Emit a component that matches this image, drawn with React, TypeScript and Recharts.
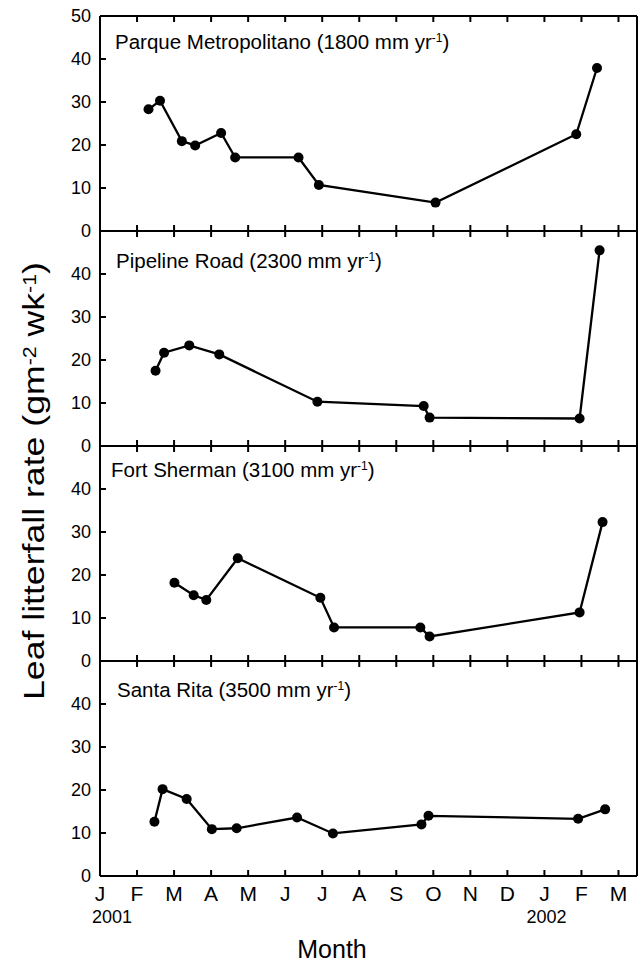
import React from 'react';
import { LineChart, Line, XAxis, YAxis } from 'recharts';

// month index: 0 = Jan 2001 ... 14 = Mar 2002
const MONTH_TICKS = [0, 1, 2, 3, 4, 5, 6, 7, 8, 9, 10, 11, 12, 13, 14];
const MONTH_LABELS = ['J', 'F', 'M', 'A', 'M', 'J', 'J', 'A', 'S', 'O', 'N', 'D', 'J', 'F', 'M'];
const YEAR_LABELS: Record<number, string> = { 0: '2001', 12: '2002' };
const RATE_TICKS = [0, 10, 20, 30, 40, 50];

const parqueMonth = [1.31, 1.62, 2.21, 2.57, 3.27, 3.65, 5.36, 5.91, 9.06, 12.86, 13.42];
const parqueRate = [28.3, 30.3, 20.9, 19.9, 22.8, 17.1, 17.1, 10.7, 6.6, 22.5, 37.9];

const pipelineMonth = [1.5, 1.73, 2.41, 3.22, 5.87, 8.74, 8.9, 12.95, 13.49];
const pipelineRate = [17.5, 21.7, 23.4, 21.3, 10.3, 9.3, 6.6, 6.4, 45.5];

const shermanMonth = [2.01, 2.53, 2.87, 3.72, 5.95, 6.32, 8.65, 8.9, 12.95, 13.57];
const shermanRate = [18.2, 15.3, 14.2, 23.9, 14.7, 7.8, 7.8, 5.7, 11.3, 32.3];

const ritaMonth = [1.47, 1.69, 2.34, 3.02, 3.69, 5.32, 6.29, 8.68, 8.87, 12.91, 13.64];
const ritaRate = [12.6, 20.2, 17.9, 10.9, 11.1, 13.6, 9.9, 12.0, 14.0, 13.3, 15.5];

const SITES = ['Parque Metropolitano', 'Pipeline Road', 'Fort Sherman', 'Santa Rita'];
const RAINFALL = [1800, 2300, 3100, 3500];

const FONT = '"Liberation Sans", Arial, Helvetica, sans-serif';
const PANEL_TOPS = [16, 231, 446, 661];
const PANEL_H = 215;
const AXIS_PAD = 10;
const TITLE_POS = [
  { x: 115, y: 49 },
  { x: 116, y: 268 },
  { x: 111, y: 477 },
  { x: 117, y: 697 },
];

const toRows = (m: number[], v: number[]) => m.map((x, i) => ({ month: x, rate: v[i] }));
const PANELS = [
  toRows(parqueMonth, parqueRate),
  toRows(pipelineMonth, pipelineRate),
  toRows(shermanMonth, shermanRate),
  toRows(ritaMonth, ritaRate),
];

const black = { stroke: '#000', strokeWidth: 2 };

function LeftLabel(props: any) {
  const { x, y, payload, showTop } = props;
  const v = payload.value;
  if (v === 50 && !showTop) return <g />;
  return (
    <text x={x - 9} y={y} dy="0.36em" textAnchor="end" fontSize={18} fontFamily={FONT} fill="#000">
      {v}
    </text>
  );
}

function MonthLabel(props: any) {
  const { x, y, payload, show } = props;
  if (!show) return <g />;
  const v = payload.value;
  const year = YEAR_LABELS[v];
  return (
    <g>
      <text x={x} y={y + 25} textAnchor="middle" fontSize={21} fontFamily={FONT} fill="#000">
        {MONTH_LABELS[v]}
      </text>
      {year && (
        <text x={x + (v === 0 ? 12 : 2)} y={y + 47} textAnchor="middle" fontSize={18} fontFamily={FONT} fill="#000">
          {year}
        </text>
      )}
    </g>
  );
}

const Empty = () => <g />;

function Panel({ index }: { index: number }) {
  const last = index === PANELS.length - 1;
  const extra = last ? 60 : 0;
  return (
    <div style={{ position: 'absolute', left: 0, top: PANEL_TOPS[index] - AXIS_PAD }}>
      <LineChart
        width={642}
        height={AXIS_PAD + PANEL_H + AXIS_PAD + extra}
        data={PANELS[index]}
        margin={{ top: 0, right: 0, bottom: extra, left: 40 }}
      >
        <XAxis
          xAxisId="b"
          dataKey="month"
          type="number"
          domain={[0, 14.5]}
          ticks={MONTH_TICKS}
          interval={0}
          height={AXIS_PAD}
          tickSize={-6}
          tickMargin={6}
          tickLine={black}
          axisLine={black}
          tick={<MonthLabel show={last} />}
          allowDataOverflow
        />
        <XAxis
          xAxisId="t"
          orientation="top"
          dataKey="month"
          type="number"
          domain={[0, 14.5]}
          ticks={MONTH_TICKS}
          interval={0}
          height={AXIS_PAD}
          tickSize={-6}
          tickMargin={6}
          tickLine={black}
          axisLine={black}
          tick={<Empty />}
          allowDataOverflow
        />
        <YAxis
          yAxisId="l"
          type="number"
          domain={[0, 50]}
          ticks={RATE_TICKS}
          interval={0}
          width={60}
          tickSize={-6}
          tickMargin={6}
          tickLine={black}
          axisLine={black}
          tick={<LeftLabel showTop={index === 0} />}
        />
        <YAxis
          yAxisId="r"
          orientation="right"
          type="number"
          domain={[0, 50]}
          ticks={RATE_TICKS}
          interval={0}
          width={5}
          tickSize={-6}
          tickMargin={6}
          tickLine={black}
          axisLine={black}
          tick={<Empty />}
        />
        <Line
          xAxisId="b"
          yAxisId="l"
          type="linear"
          dataKey="rate"
          stroke="#000"
          strokeWidth={2.3}
          dot={{ r: 5, fill: '#000', stroke: '#000', strokeWidth: 0 }}
          isAnimationActive={false}
        />
      </LineChart>
    </div>
  );
}

export default function App() {
  return (
    <div
      style={{
        position: 'absolute',
        left: 0,
        top: 0,
        width: 642,
        height: 963,
        background: '#fff',
        fontFamily: FONT,
        overflow: 'hidden',
      }}
    >
      {PANELS.map((_, i) => (
        <Panel key={i} index={i} />
      ))}
      <svg
        width={642}
        height={963}
        style={{ position: 'absolute', left: 0, top: 0, pointerEvents: 'none' }}
        fontFamily={FONT}
      >
        {SITES.map((s, i) => (
          <text key={s} x={TITLE_POS[i].x} y={TITLE_POS[i].y} fontSize={20.5} fill="#000">
            {s} ({RAINFALL[i]} mm yr
            <tspan fontSize={12} dy={-7}>-1</tspan>
            <tspan dy={7}>)</tspan>
          </text>
        ))}
        <text
          transform="translate(44, 481) rotate(-90)"
          textAnchor="middle"
          fontSize={30}
          fill="#000"
          textLength={438}
          lengthAdjust="spacingAndGlyphs"
        >
          Leaf litterfall rate (gm
          <tspan fontSize={18} dy={-8}>-2</tspan>
          <tspan dy={8}> wk</tspan>
          <tspan fontSize={18} dy={-8}>-1</tspan>
          <tspan dy={8}>)</tspan>
        </text>
        <text x={332} y={958} textAnchor="middle" fontSize={25} fill="#000">
          Month
        </text>
      </svg>
    </div>
  );
}
